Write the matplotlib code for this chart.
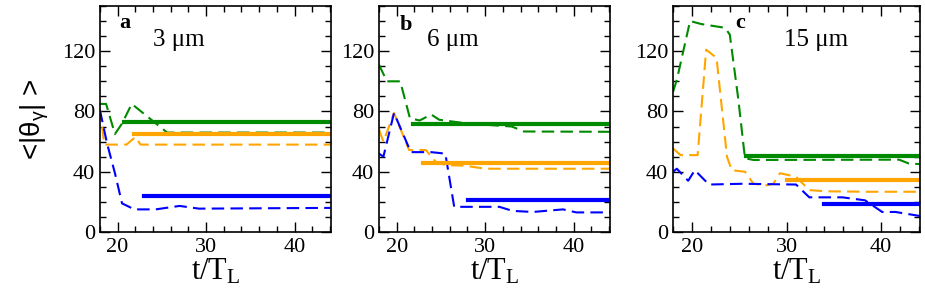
import matplotlib
matplotlib.use("Agg")
import matplotlib.pyplot as plt
from matplotlib.ticker import MultipleLocator

plt.rcParams["font.family"] = ["Liberation Serif", "DejaVu Serif"]
plt.rcParams["mathtext.fontset"] = "custom"
plt.rcParams["mathtext.default"] = "regular"

GREEN, ORANGE, BLUE = "#008a00", "#ffa500", "#0000ff"

# panel a: 3 um
a_green_t = [18.0, 18.7, 19.7, 20.5, 21.6, 25.6, 44.2]
a_green_v = [85, 85, 65, 72, 85, 66, 66]
a_orange_t = [18.0, 18.5, 21.0, 22.0, 22.6, 44.2]
a_orange_v = [82, 58, 58, 63, 58, 58]
a_blue_t = [18.0, 18.8, 19.7, 20.5, 21.9, 24.3, 27.0, 29.2, 44.2]
a_blue_v = [81, 59, 39, 19, 15, 15, 17.3, 15.5, 16]
a_mean = {"green": (20.7, 73), "orange": (21.8, 65), "blue": (23.0, 24)}

# panel b: 6 um
b_green_t = [18.0, 18.9, 20.4, 21.5, 22.6, 23.9, 24.8, 28.0, 33.0, 34.4, 44.2]
b_green_v = [111, 100, 100, 75.5, 74, 78, 74.5, 72, 70, 66.7, 66.5]
b_orange_t = [18.0, 18.5, 19.7, 21.4, 23.3, 24.4, 25.5, 27.7, 30.0, 44.2]
b_orange_v = [68, 60, 79, 54.4, 54.4, 46.7, 44.4, 44, 42, 42]
b_blue_t = [18.0, 18.5, 19.7, 21.6, 23.9, 25.5, 26.5, 28.6, 31.6, 33.1, 35.4, 38.8, 40.3, 44.2]
b_blue_v = [52, 50, 79, 53, 53, 52, 16.7, 16.7, 16.7, 14, 13.3, 15, 13, 13]
b_mean = {"green": (21.9, 71.5), "orange": (23.0, 46), "blue": (28.05, 21)}

# panel c: 15 um
c_green_t = [18.0, 18.4, 19.8, 21.0, 23.5, 24.0, 24.9, 25.6, 26.5, 41.9, 42.9, 44.2]
c_green_v = [93, 101, 140, 138, 135.5, 131, 88, 49, 47.8, 48, 45.5, 45]
c_orange_t = [18.0, 18.8, 20.6, 21.5, 22.6, 23.7, 24.2, 25.6, 26.5, 27.9, 28.6, 29.3,
              31.0, 32.4, 34.2, 38.7, 44.2]
c_orange_v = [55.5, 51, 51, 121, 115.5, 50, 41, 40, 32, 31, 32, 39,
              36.7, 27.8, 27, 26.7, 26.7]
c_blue_t = [18.0, 18.4, 19.6, 20.3, 21.8, 25.3, 31.0, 32.4, 35.9, 38.3, 40.1, 41.5, 44.2]
c_blue_v = [40, 42, 34, 41, 31.5, 32, 31.5, 23, 23, 21, 13.3, 13.3, 10.5]
c_mean = {"green": (25.75, 50.7), "orange": (30.07, 34.4), "blue": (34.0, 18.4)}

panels = [
    ("a", "3 \u03bcm", (0.108, 0.2497), [(a_green_t, a_green_v), (a_orange_t, a_orange_v), (a_blue_t, a_blue_v)], a_mean, (0.085, 0.925), (0.23, 0.85)),
    ("b", "6 \u03bcm", (0.4097, 0.2497), [(b_green_t, b_green_v), (b_orange_t, b_orange_v), (b_blue_t, b_blue_v)], b_mean, (0.09, 0.915), (0.21, 0.85)),
    ("c", "15 \u03bcm", (0.7276, 0.267), [(c_green_t, c_green_v), (c_orange_t, c_orange_v), (c_blue_t, c_blue_v)], c_mean, (0.25, 0.925), (0.45, 0.85)),
]
colors = [GREEN, ORANGE, BLUE]

fig = plt.figure(figsize=(9.25, 2.98), dpi=100)
for label, size, (left, width), series, means, lab_pos, size_pos in panels:
    ax = fig.add_axes([left, 0.2215, width, 0.7584])
    for (t, v), col in zip(series, colors):
        ax.plot(t, v, color=col, lw=1.5, dashes=(6, 3))
    for key, col in zip(["green", "orange", "blue"], colors):
        t0, m = means[key]
        ax.plot([t0, 44.5], [m, m], color=col, lw=3)
    ax.set_xlim(18, 44.1)
    ax.set_ylim(0, 150)
    ax.xaxis.set_major_locator(MultipleLocator(10))
    ax.xaxis.set_minor_locator(MultipleLocator(2))
    ax.yaxis.set_major_locator(MultipleLocator(40))
    ax.yaxis.set_minor_locator(MultipleLocator(10))
    ax.tick_params(which="both", direction="in", top=True, right=True, labelsize=16)
    ax.tick_params(which="major", length=7, width=1)
    ax.tick_params(which="minor", length=4, width=1)
    ax.tick_params(axis="x", pad=4)
    for sp in ax.spines.values():
        sp.set_linewidth(1.2)
    ax.text(*lab_pos, label, transform=ax.transAxes, fontsize=16, fontweight="bold",
            ha="left", va="center")
    ax.text(*size_pos, size, transform=ax.transAxes, fontsize=18, ha="left", va="center")
    ax.set_xlabel("t/T$_L$", fontsize=22, labelpad=0)
    if label == "a":
        ax.set_ylabel("<|\u03b8$_\u03b3$| >", fontsize=20, family=["Liberation Sans", "DejaVu Sans"],
                      labelpad=8)

fig.savefig("out.png", dpi=100)
